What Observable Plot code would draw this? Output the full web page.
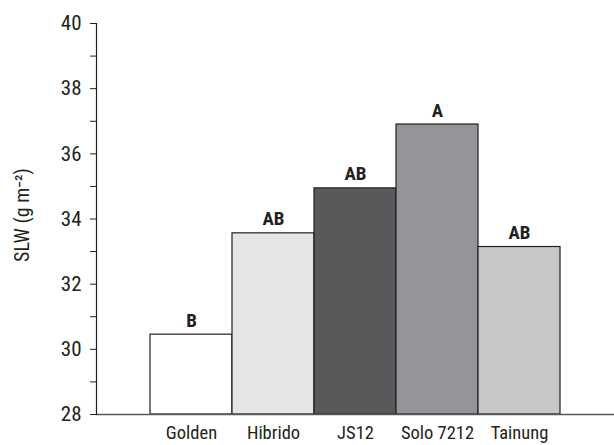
<!DOCTYPE html>
<html>
<head>
<meta charset="utf-8">
<script src="https://cdn.jsdelivr.net/npm/d3@7"></script>
<script src="https://cdn.jsdelivr.net/npm/@observablehq/plot@0.6"></script>
<style>
  html, body { margin: 0; padding: 0; background: #fff; }
  #chart svg { display: block; }
</style>
</head>
<body>
<div id="chart"></div>
<script>
// Specific leaf weight by papaya cultivar, with significance letters
const cultivars = ["Golden", "Hibrido", "JS12", "Solo 7212", "Tainung"];
const slw = [30.45, 33.56, 34.94, 36.90, 33.14];
const letters = ["B", "AB", "AB", "A", "AB"];
const fills = ["#ffffff", "#e4e5e7", "#58595b", "#939598", "#c6c7c9"];
const yMajorTicks = [28, 30, 32, 34, 36, 38, 40];
const yMinorTicks = [29, 31, 33, 35, 37, 39];

const rows = cultivars.map((c, i) => ({cultivar: c, slw: slw[i], letter: letters[i], fill: fills[i]}));
const yMin = yMajorTicks[0];
const yMax = yMajorTicks[yMajorTicks.length - 1];
const font = "'Liberation Sans Narrow', 'Arial Narrow', 'Roboto Condensed', 'Liberation Sans', sans-serif";

const chart = Plot.plot({
  width: 614,
  height: 445,
  marginLeft: 96,
  marginRight: 0,
  marginTop: 23,
  marginBottom: 31,
  style: {fontFamily: font, fontSize: "19px", color: "#231f20", background: "#fff"},
  x: {domain: cultivars, paddingInner: 0, paddingOuter: 0.625, label: null},
  y: {domain: [yMin, yMax], label: null},
  marks: [
    Plot.barY(rows, {
      x: "cultivar", y1: () => yMin, y2: "slw",
      fill: "fill", stroke: "#231f20", strokeWidth: 1.2, inset: 0
    }),
    Plot.text(rows, {
      x: "cultivar", y: "slw", text: "letter", dy: -14,
      fontWeight: "bold", fontSize: 19, fill: "#231f20"
    }),
    Plot.ruleY([yMin], {stroke: "#58595b", strokeWidth: 1.5}),
    Plot.frame({anchor: "left", stroke: "#231f20", strokeWidth: 1.2}),
    Plot.axisY(yMajorTicks, {tickSize: 6, tickPadding: 9, fontSize: 21, label: null, stroke: "#231f20"}),
    Plot.axisY(yMinorTicks, {tickSize: 6, text: null, label: null, stroke: "#231f20"}),
    Plot.axisX({tickSize: 0, tickPadding: 11, fontSize: 18.5, label: null}),
    Plot.text(["SLW (g m\u207B\u00B2)"], {
      frameAnchor: "left", textAnchor: "middle", dx: -74, dy: -4, rotate: -90,
      fontSize: 20, fill: "#231f20"
    })
  ]
});

document.getElementById("chart").appendChild(chart);
</script>
</body>
</html>
